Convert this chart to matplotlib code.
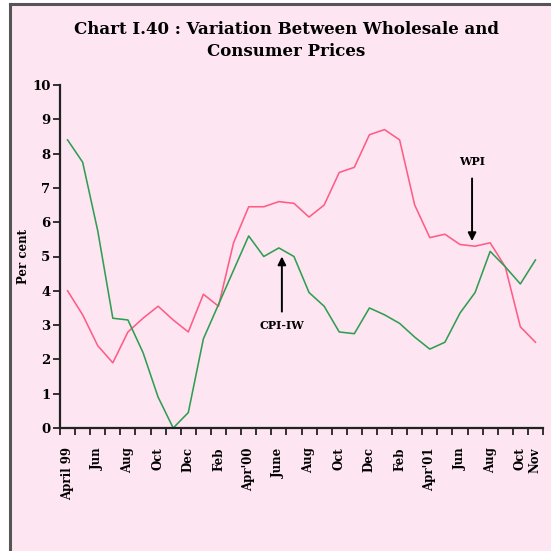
import numpy as np
import matplotlib
matplotlib.use("Agg")
import matplotlib.pyplot as plt
from matplotlib.lines import Line2D

# Monthly inflation, April 1999 to November 2001 (per cent)
wpi = [4.0, 3.3, 2.4, 1.9, 2.8, 3.2, 3.55, 3.15, 2.8, 3.9,
       3.55, 5.4, 6.45, 6.45, 6.6, 6.55, 6.15, 6.5, 7.45, 7.6,
       8.55, 8.7, 8.4, 6.5, 5.55, 5.65, 5.35, 5.3, 5.4, 4.7,
       2.95, 2.5]
cpi_iw = [8.4, 7.75, 5.75, 3.2, 3.15, 2.2, 0.9, 0.0, 0.45, 2.6,
          3.6, 4.6, 5.6, 5.0, 5.25, 5.0, 3.95, 3.55, 2.8, 2.75,
          3.5, 3.3, 3.05, 2.65, 2.3, 2.5, 3.35, 3.95, 5.15, 4.7,
          4.2, 4.9]
month_labels = ["April 99", "Jun", "Aug", "Oct", "Dec", "Feb", "Apr'00",
                "June", "Aug", "Oct", "Dec", "Feb", "Apr'01", "Jun", "Aug",
                "Oct", "Nov"]
label_idx = list(range(0, 31, 2)) + [31]

BG = "#fde6f2"
RED = "#ff5c86"
GREEN = "#2f9e52"
FONT = "DejaVu Serif"

fig = plt.figure(figsize=(5.51, 5.51), dpi=100)
fig.patch.set_facecolor("white")

# pink panel with a frame on its top and left edges
panel = plt.Rectangle((10 / 551, 0), 1, 1 - 4 / 551, transform=fig.transFigure,
                      facecolor=BG, edgecolor="none", zorder=0)
fig.add_artist(panel)
fig.add_artist(Line2D([10 / 551, 10 / 551], [0, 1 - 4 / 551], color="#555555",
                      lw=2.2, transform=fig.transFigure))
fig.add_artist(Line2D([10 / 551, 1], [1 - 4 / 551, 1 - 4 / 551], color="#555555",
                      lw=2.2, transform=fig.transFigure))

fig.text(0.52, 1 - 30 / 551, "Chart I.40 : Variation Between Wholesale and",
         ha="center", va="center", fontsize=12, fontweight="heavy", family=FONT)
fig.text(0.52, 1 - 52 / 551, "Consumer Prices",
         ha="center", va="center", fontsize=12, fontweight="heavy", family=FONT)

ax = fig.add_axes([60 / 551, 1 - 428 / 551, 483 / 551, 343 / 551])
ax.set_facecolor("none")

x = np.arange(len(wpi)) + 0.5
ax.plot(x, wpi, color=RED, lw=1.15)
ax.plot(x, cpi_iw, color=GREEN, lw=1.15)

ax.set_xlim(0, len(wpi))
ax.set_ylim(0, 10)
ax.set_yticks(range(0, 11))
ax.set_yticklabels([str(v) for v in range(0, 11)], fontsize=9.5,
                   fontweight="bold", family=FONT)

ax.set_xticks(np.arange(0, len(wpi) + 1))
ax.set_xticklabels([])
ax.set_xticks(np.array(label_idx) + 0.5, minor=True)
ax.set_xticklabels(month_labels, minor=True, rotation=90, fontsize=8.5,
                   fontweight="bold", family=FONT, va="top")
ax.tick_params(axis="x", which="minor", length=0, pad=14)
ax.tick_params(axis="both", which="major", direction="out", length=5,
               width=1.3, color="#222222")
ax.tick_params(axis="y", pad=2)

for side in ("top", "right"):
    ax.spines[side].set_visible(False)
for side in ("left", "bottom"):
    ax.spines[side].set_linewidth(1.6)
    ax.spines[side].set_color("#222222")

ax.set_ylabel("Per cent", fontsize=8.5, fontweight="bold", family=FONT)
ax.yaxis.set_label_coords(-30 / 483, 0.5)

ax.annotate("WPI", xy=(27.3, 5.45), xytext=(27.3, 7.6), ha="center",
            va="bottom", fontsize=8, fontweight="bold", family=FONT,
            arrowprops=dict(arrowstyle="-|>", color="black", lw=1.4,
                            mutation_scale=12, shrinkA=6, shrinkB=0))
ax.annotate("CPI-IW", xy=(14.7, 5.0), xytext=(14.7, 3.15), ha="center",
            va="top", fontsize=8, fontweight="bold", family=FONT,
            arrowprops=dict(arrowstyle="-|>", color="black", lw=1.4,
                            mutation_scale=12, shrinkA=4, shrinkB=0))

fig.savefig("out.png", dpi=100, facecolor="white")
